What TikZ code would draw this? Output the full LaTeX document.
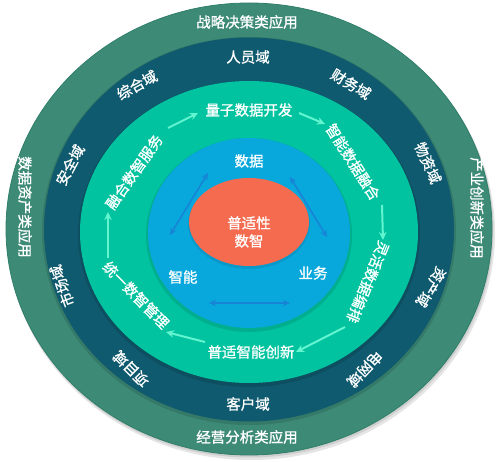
\documentclass[tikz,border=0pt]{standalone}
\usepackage{fontspec}
\setmainfont{Noto Sans CJK SC}[FakeBold=1]
\usetikzlibrary{arrows.meta}
\definecolor{outerc}{HTML}{3D8B77}
\definecolor{outeredge}{HTML}{2F7E69}
\definecolor{darkc}{HTML}{0F5A6E}
\definecolor{greenc}{HTML}{02C39F}
\definecolor{bluec}{HTML}{08A7DC}
\definecolor{redc}{HTML}{F46B4F}
\definecolor{arrowg}{HTML}{62F5D0}
\definecolor{arrowb}{HTML}{1784D6}
\begin{document}
\begin{tikzpicture}[x=1pt,y=-1pt,
  lab/.style={text=white,font=\fontsize{14.5}{16}\selectfont,inner sep=0pt},
  garrow/.style={draw=arrowg,line width=2pt,-{Stealth[length=8pt,width=7.5pt]}},
  barrow/.style={draw=arrowb,line width=1.6pt,{Stealth[length=7pt,width=6.5pt]}-{Stealth[length=7pt,width=6.5pt]}}]
\useasboundingbox (0,0) rectangle (500,462);
% shadow
\fill[black,opacity=0.10] (251,233) ellipse [x radius=244, y radius=227];
\fill[black,opacity=0.10] (250,231) ellipse [x radius=243.5, y radius=226.5];
% rings
\fill[outerc,draw=outeredge,line width=0.8pt] (249,229) ellipse [x radius=243, y radius=226];
\fill[black,opacity=0.12] (249,231) ellipse [x radius=207, y radius=194];
\fill[darkc] (249,229.5) ellipse [x radius=205, y radius=192];
\fill[black,opacity=0.12] (249,234) ellipse [x radius=171, y radius=153];
\fill[greenc] (249,232) ellipse [x radius=169, y radius=151];
\fill[black,opacity=0.10] (249,235) ellipse [x radius=103, y radius=97];
\fill[bluec] (249,233) ellipse [x radius=101, y radius=95];
\fill[black,opacity=0.08] (249,224) ellipse [x radius=61, y radius=45];
\fill[redc] (249,222) ellipse [x radius=60, y radius=44];

% outer ring labels
\node[lab] (app1) at (247,22) {战略决策类应用};
\node[lab] (app2) at (25,207) [rotate=-90] {数据资产类应用};
\node[lab] (app3) at (477,208) [rotate=-90] {产业创新类应用};
\node[lab] (app4) at (247,437) {经营分析类应用};

% dark ring labels
\node[lab] (d1) at (248,57) {人员域};
\node[lab] (d2) at (137,85) [rotate=29] {综合域};
\node[lab] (d3) at (351,84) [rotate=-31] {财务域};
\node[lab] (d4) at (428,163) [rotate=-66] {物资域};
\node[lab] (d5) at (70,165) [rotate=62] {安全域};
\node[lab] (d6) at (62,286) [rotate=110] {市场域};
\node[lab] (d7) at (431,287) [rotate=-121] {资产域};
\node[lab] (d8) at (131,369) [rotate=135] {项目域};
\node[lab] (d9) at (365,369) [rotate=-134] {电网域};
\node[lab] (d10) at (248,404) {客户域};

% green ring labels
\node[lab] (g1) at (249,110) {量子数据开发};
\node[lab] (g2) at (353,162) [rotate=-57.6] {智能数据融合};
\node[lab] (g3) at (368,282) [rotate=-112.5] {灵活数据编排};
\node[lab] (g4) at (251,352) {普适智能创新};
\node[lab] (g5) at (136,295) [rotate=-45.5] {统一数智管理};
\node[lab] (g6) at (134,172) [rotate=55] {融合数智服务};

% green arrows
\coordinate (a1s) at (168,128); \coordinate (a1e) at (198,113);
\coordinate (a2s) at (299,113); \coordinate (a2e) at (325,124);
\coordinate (a3s) at (382,205); \coordinate (a3e) at (383,240);
\coordinate (a4s) at (345,327); \coordinate (a4e) at (296,352);
\coordinate (a5s) at (205,342); \coordinate (a5e) at (166,332);
\coordinate (a6s) at (108,258); \coordinate (a6e) at (108,212);
\draw[garrow] (a1s) -- (a1e);
\draw[garrow] (a2s) -- (a2e);
\draw[garrow] (a3s) -- (a3e);
\draw[garrow] (a4s) -- (a4e);
\draw[garrow] (a5s) -- (a5e);
\draw[garrow] (a6s) -- (a6e);

% blue circle labels
\node[lab] (b1) at (249,161) {数据};
\node[lab] (b2) at (183,277) {智能};
\node[lab] (b3) at (313,273) {业务};
\node[lab,align=center,font=\fontsize{14.5}{18}\selectfont] (core) at (249,232) {普适性\\数智};

% blue arrows
\coordinate (c1s) at (170,235); \coordinate (c1e) at (208,173);
\coordinate (c2s) at (290,177); \coordinate (c2e) at (327,237);
\coordinate (c3s) at (209,303); \coordinate (c3e) at (290,303);
\draw[barrow] (c1s) -- (c1e);
\draw[barrow] (c2s) -- (c2e);
\draw[barrow] (c3s) -- (c3e);
\end{tikzpicture}
\end{document}
